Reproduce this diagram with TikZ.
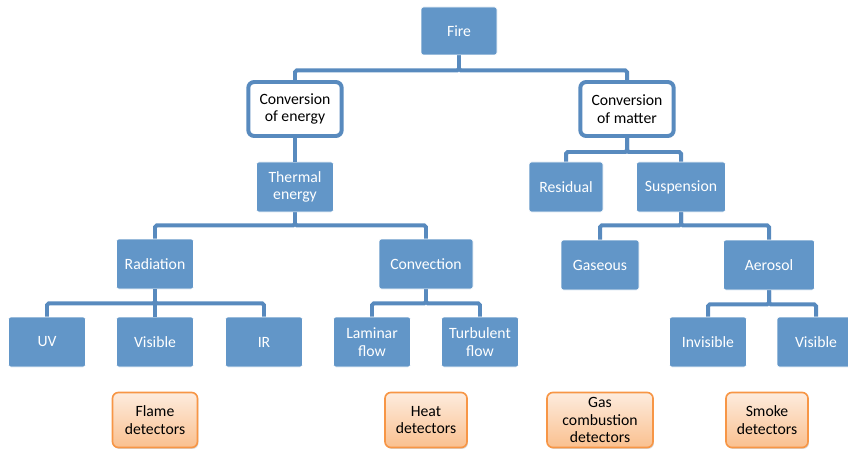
\documentclass[tikz,border=0pt]{standalone}
\usepackage{fontspec}
\setmainfont{Carlito}
\usepackage{tikz}
\usetikzlibrary{shadows}
\definecolor{boxblue}{RGB}{98,150,200}
\definecolor{linkblue}{RGB}{88,138,190}
\definecolor{detorange}{RGB}{247,150,70}
\definecolor{dettop}{RGB}{253,236,222}
\definecolor{detbottom}{RGB}{250,192,143}

\begin{document}
\begin{tikzpicture}
    [x=0.03cm,y=-0.03cm,
    every node/.style={rectangle,rounded corners=2pt,align=center,inner sep=0pt,font=\fontsize{13.4}{14.8}\selectfont},
    box/.style={fill=boxblue,draw=white,line width=0.6pt,text=white,minimum width=2.31cm,minimum height=1.5cm},
    conv/.style={fill=white,draw=linkblue,line width=3.4pt,rounded corners=5pt,minimum width=2.8cm,minimum height=1.62cm},
    detector/.style={draw=detorange,line width=1.4pt,rounded corners=5pt,top color=dettop,bottom color=detbottom,
      drop shadow={opacity=0.3,shadow xshift=0.8pt,shadow yshift=-1.2pt},minimum width=2.46cm,minimum height=1.65cm},
    link/.style={draw=linkblue,line width=3.4pt,rounded corners=1.5pt}]
      \useasboundingbox (0,0) rectangle (848,452);
      %top
      \node[box,minimum width=2.28cm,minimum height=1.44cm] (fire) at (459,31) {Fire};
      \node[conv] (energy) at (295,109) {Conversion\\of energy};
      \node[conv] (matter) at (627,109) {Conversion\\of matter};
      %energy side
      \node[box] (thermal) at (295,187) {Thermal\\energy};
      \node[box] (radiation) at (155,264) {Radiation};
      \node[box,minimum width=2.82cm] (convection) at (426,264) {Convection};
      \node[box] (uv) at (47,342) {UV};
      \node[box] (visible) at (155,342) {Visible};
      \node[box] (ir) at (264,342) {IR};
      \node[box] (laminar) at (372,342) {Laminar\\flow};
      \node[box] (turbulent) at (480,342) {Turbulent\\flow};
      %matter side
      \node[box,minimum width=2.22cm] (residual) at (566,187) {Residual};
      \node[box,minimum width=2.67cm] (suspension) at (681,187) {Suspension};
      \node[box,minimum width=2.34cm] (gaseous) at (600,265) {Gaseous};
      \node[box,minimum width=2.73cm] (aerosol) at (769,265) {Aerosol};
      \node[box] (invisible) at (708,342) {Invisible};
      \node[box,minimum width=2.34cm] (visibletwo) at (816,342) {Visible};
      %detectors
      \node[detector,minimum width=2.55cm] (flame) at (155,420) {Flame\\detectors};
      \node[detector] (heat) at (426,420) {Heat\\detectors};
      \node[detector,minimum width=3.18cm] (gas) at (600,420) {Gas\\combustion\\detectors};
      \node[detector] (smoke) at (767,420) {Smoke\\detectors};
      %connectors
      \draw[link] (fire.south) -- ++(0,15) -| (energy.north);
      \draw[link] (fire.south) -- ++(0,15) -| (matter.north);
      \draw[link] (energy.south) -- (thermal.north);
      \draw[link] (matter.south) -- ++(0,14) -| (residual.north);
      \draw[link] (matter.south) -- ++(0,14) -| (suspension.north);
      \draw[link] (thermal.south) -- ++(0,13) -| (radiation.north);
      \draw[link] (thermal.south) -- ++(0,13) -| (convection.north);
      \draw[link] (suspension.south) -- ++(0,13) -| (gaseous.north);
      \draw[link] (suspension.south) -- ++(0,13) -| (aerosol.north);
      \draw[link] (radiation.south) -- ++(0,14) -| (uv.north);
      \draw[link] (radiation.south) -- (visible.north);
      \draw[link] (radiation.south) -- ++(0,14) -| (ir.north);
      \draw[link] (convection.south) -- ++(0,14) -| (laminar.north);
      \draw[link] (convection.south) -- ++(0,14) -| (turbulent.north);
      \draw[link] (aerosol.south) -- ++(0,14) -| (invisible.north);
      \draw[link] (aerosol.south) -- ++(0,14) -| (visibletwo.north);
\end{tikzpicture}
\end{document}
